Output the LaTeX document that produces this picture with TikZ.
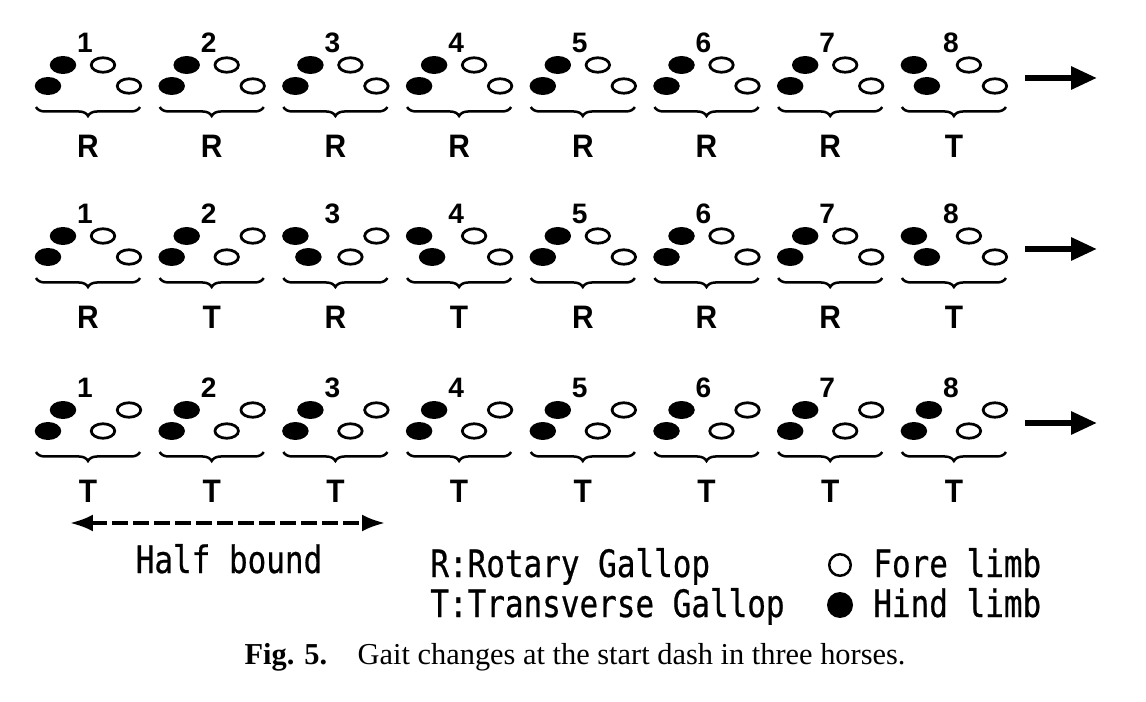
\documentclass[tikz,border=0pt]{standalone}
\usepackage{fontspec}
\setmainfont{Liberation Serif}
\newfontfamily\numfont{Liberation Sans}
\newfontfamily\gaitfont[FakeStretch=0.92]{Liberation Sans}
\newfontfamily\keyfont[FakeStretch=0.82,FakeBold=0.6]{DejaVu Sans Mono}
\usetikzlibrary{shapes.geometric,arrows.meta,decorations.pathreplacing,positioning}

\tikzset{
 hind/.style={ellipse,fill=black,minimum width=0.53cm,minimum height=0.36cm,inner sep=0pt},
 fore/.style={ellipse,draw=black,line width=0.055cm,minimum width=0.47cm,minimum height=0.29cm,inner sep=0pt},
 stepnum/.style={font=\numfont\bfseries\fontsize{16}{18}\selectfont,inner sep=0pt},
 gait/.style={font=\gaitfont\bfseries\fontsize{18.5}{20}\selectfont,inner sep=0pt},
 pairbrace/.style={decorate,decoration={brace,amplitude=0.18cm,mirror},line width=0.05cm},
 runarrow/.style={line width=0.12cm,-{Triangle[length=0.52cm,width=0.44cm]}},
 boundarrow/.style={line width=0.07cm,dash pattern=on 0.32cm off 0.1cm,{Latex[length=0.46cm,width=0.34cm]}-{Latex[length=0.46cm,width=0.34cm]}},
 key/.style={font=\keyfont\fontsize{21.5}{24}\selectfont,inner sep=0pt},
 forekey/.style={circle,draw=black,line width=0.05cm,minimum size=0.43cm,inner sep=0pt},
 hindkey/.style={circle,fill=black,minimum size=0.52cm,inner sep=0pt}
}

\begin{document}
\begin{tikzpicture}[x=0.02cm,y=-0.02cm]
 \useasboundingbox (0,0) rectangle (1146,702);
 % footfall groups: row/step/hind crossed/fore crossed/gait
 \foreach \r/\g/\h/\f/\lab in {1/1/0/0/R,1/2/0/0/R,1/3/0/0/R,1/4/0/0/R,1/5/0/0/R,1/6/0/0/R,1/7/0/0/R,1/8/1/0/T,
   2/1/0/0/R,2/2/0/1/T,2/3/1/1/R,2/4/1/0/T,2/5/0/0/R,2/6/0/0/R,2/7/0/0/R,2/8/1/0/T,
   3/1/0/1/T,3/2/0/1/T,3/3/0/1/T,3/4/0/1/T,3/5/0/1/T,3/6/0/1/T,3/7/0/1/T,3/8/0/1/T} {
  \pgfmathsetmacro\cx{88+123.7*(\g-1)}
  \pgfmathsetmacro\ny{{43,214,388}[\r-1]}
  \node[stepnum] (n\r\g) at (\cx-3,\ny) {\g};
  \node[hind] (hu\r\g) at (\cx-25-15*\h,\ny+22) {};
  \node[hind] (hl\r\g) at (\cx-40+13*\h,\ny+43) {};
  \node[fore] (fu\r\g) at (\cx+15+26*\f,\ny+22) {};
  \node[fore] (fl\r\g) at (\cx+41-26*\f,\ny+43) {};
  \coordinate (bl\r\g) at (\cx-52,\ny+64);
  \coordinate (br\r\g) at (\cx+52,\ny+64);
  \draw[pairbrace] (bl\r\g) -- (br\r\g);
  \node[gait] (g\r\g) at (\cx,\ny+103) {\lab};
 }

 % direction of travel
 \foreach \r/\ny in {1/43,2/214,3/388} {
  \coordinate (as\r) at (1025,\ny+35);
  \coordinate (ae\r) at (1097,\ny+35);
  \draw[runarrow] (as\r) -- (ae\r);
 }

 % half bound
 \coordinate (hb0) at (70,523);
 \coordinate (hb1) at (385,523);
 \draw[boundarrow] (hb0) -- (hb1);
 \node[key,anchor=base] (hb) at (229,573) {Half bound};

 % legend
 \node[key,anchor=base west] (rg) at (430,577) {R:Rotary Gallop};
 \node[key,anchor=base west] (tg) at (430,617) {T:Transverse Gallop};
 \node[forekey] (fk) at (840,565) {};
 \node[hindkey] (hk) at (840,605) {};
 \node[key,anchor=base west] (foretxt) at (873,577) {Fore limb};
 \node[key,anchor=base west] (hindtxt) at (873,617) {Hind limb};

 % caption
 \node[anchor=base,font=\fontsize{17.3}{20}\selectfont,inner sep=0pt] (cap) at (575,664)
  {\textbf{Fig. 5.}\hspace{1em}Gait changes at the start dash in three horses.};
\end{tikzpicture}
\end{document}
